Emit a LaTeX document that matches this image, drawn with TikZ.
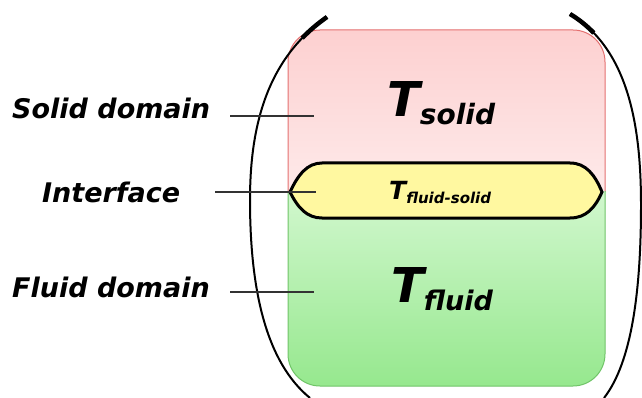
\documentclass[tikz,border=0pt]{standalone}
\usepackage{fontspec}
\setmainfont{DejaVu Sans}
\usetikzlibrary{positioning, calc}

\definecolor{solidedge}{RGB}{228,112,112}
\definecolor{solidtop}{RGB}{253,208,208}
\definecolor{solidbot}{RGB}{254,243,243}
\definecolor{fluidedge}{RGB}{112,196,104}
\definecolor{fluidtop}{RGB}{228,252,226}
\definecolor{fluidbot}{RGB}{150,232,142}
\definecolor{ifacefill}{RGB}{255,248,160}

\begin{document}
\begin{tikzpicture}[
  x=1pt, y=-1pt,
  lbl/.style={font=\fontsize{27}{27}\selectfont\bfseries\itshape, inner sep=0pt, anchor=base west},
  tval/.style={font=\bfseries\itshape, inner sep=0pt, anchor=base west},
  dom/.style={rounded corners=32pt, line width=1pt},
  ptr/.style={draw=black!80, line width=1.7pt},
  brk/.style={line width=2pt},
  brkend/.style={line width=4.5pt}
]
\useasboundingbox (0,0) rectangle (642,398);

% solid domain (cut at the interface)
\begin{scope}
  \clip (0,0) rectangle (642,192);
  \draw[dom, draw=solidedge, top color=solidtop, bottom color=solidbot] (288,30) rectangle (605,250);
\end{scope}
% fluid domain
\begin{scope}
  \clip (0,192) rectangle (642,398);
  \draw[dom, draw=fluidedge, top color=fluidtop, bottom color=fluidbot] (288,130) rectangle (605,386);
\end{scope}

% interface band
\draw[line width=3pt, fill=ifacefill]
  (290,192) .. controls (298,175) and (307,163) .. (322,163) -- (570,163)
  .. controls (586,163) and (595,175) .. (602,192)
  .. controls (595,208) and (586,218) .. (570,218) -- (322,218)
  .. controls (307,218) and (298,208) .. cycle;

% brackets, with heavier top ends
\draw[brk] (327,17) .. controls (265,60) and (250,130) .. (250,200)
  .. controls (250,290) and (266,362) .. (310,398);
\draw[brk] (570,14) .. controls (630,50) and (641,130) .. (641,205)
  .. controls (641,290) and (632,362) .. (604,398);
\draw[brkend] (327,17) .. controls (317.7,23.5) and (309.5,30.5) .. (302.2,38.1);
\draw[brkend] (570,14) .. controls (579,19.4) and (586.9,25.8) .. (593.8,33);

% temperatures
\node[tval] (tsolid) at (387,117)
  {\fontsize{48}{48}\selectfont T\raisebox{-8pt}{\fontsize{28}{28}\selectfont solid}};
\node[tval] (tiface) at (389,200)
  {\fontsize{25}{25}\selectfont T\raisebox{-3.5pt}{\fontsize{15}{15}\selectfont fluid-solid}};
\node[tval] (tfluid) at (391,302)
  {\fontsize{48}{48}\selectfont T\raisebox{-8pt}{\fontsize{27}{27}\selectfont fluid}};

% labels
\node[lbl] (lsolid) at (12,119) {Solid domain};
\node[lbl] (liface) at (42,203) {Interface};
\node[lbl] (lfluid) at (12,297) {Fluid domain};

\coordinate (psolid) at (314,116);
\coordinate (piface) at (316,192);
\coordinate (pfluid) at (314,292);

\foreach \n/\p/\g in {lsolid/psolid/20, liface/piface/35, lfluid/pfluid/20}{
  \draw[ptr] ([xshift=\g pt]\n.east |- \p) -- (\p);}
\end{tikzpicture}
\end{document}
